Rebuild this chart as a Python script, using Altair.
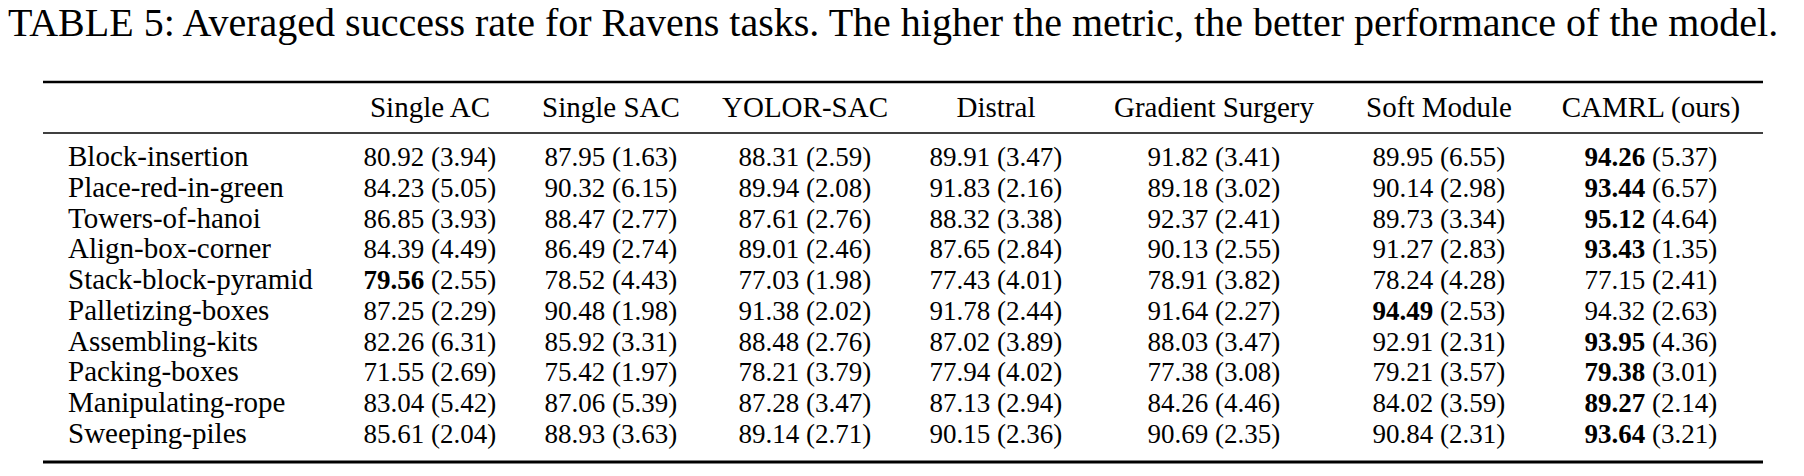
import altair as alt
import pandas as pd

TITLE = ("TABLE 5: Averaged success rate for Ravens tasks. The higher the metric, "
         "the better performance of the model.")

tasks = ["Block-insertion", "Place-red-in-green", "Towers-of-hanoi", "Align-box-corner",
         "Stack-block-pyramid", "Palletizing-boxes", "Assembling-kits", "Packing-boxes",
         "Manipulating-rope", "Sweeping-piles"]
methods = ["Single AC", "Single SAC", "YOLOR-SAC", "Distral", "Gradient Surgery",
           "Soft Module", "CAMRL (ours)"]

single_ac = [80.92, 84.23, 86.85, 84.39, 79.56, 87.25, 82.26, 71.55, 83.04, 85.61]
single_ac_sd = [3.94, 5.05, 3.93, 4.49, 2.55, 2.29, 6.31, 2.69, 5.42, 2.04]
single_sac = [87.95, 90.32, 88.47, 86.49, 78.52, 90.48, 85.92, 75.42, 87.06, 88.93]
single_sac_sd = [1.63, 6.15, 2.77, 2.74, 4.43, 1.98, 3.31, 1.97, 5.39, 3.63]
yolor_sac = [88.31, 89.94, 87.61, 89.01, 77.03, 91.38, 88.48, 78.21, 87.28, 89.14]
yolor_sac_sd = [2.59, 2.08, 2.76, 2.46, 1.98, 2.02, 2.76, 3.79, 3.47, 2.71]
distral = [89.91, 91.83, 88.32, 87.65, 77.43, 91.78, 87.02, 77.94, 87.13, 90.15]
distral_sd = [3.47, 2.16, 3.38, 2.84, 4.01, 2.44, 3.89, 4.02, 2.94, 2.36]
grad_surgery = [91.82, 89.18, 92.37, 90.13, 78.91, 91.64, 88.03, 77.38, 84.26, 90.69]
grad_surgery_sd = [3.41, 3.02, 2.41, 2.55, 3.82, 2.27, 3.47, 3.08, 4.46, 2.35]
soft_module = [89.95, 90.14, 89.73, 91.27, 78.24, 94.49, 92.91, 79.21, 84.02, 90.84]
soft_module_sd = [6.55, 2.98, 3.34, 2.83, 4.28, 2.53, 2.31, 3.57, 3.59, 2.31]
camrl = [94.26, 93.44, 95.12, 93.43, 77.15, 94.32, 93.95, 79.38, 89.27, 93.64]
camrl_sd = [5.37, 6.57, 4.64, 1.35, 2.41, 2.63, 4.36, 3.01, 2.14, 3.21]

# method whose mean is bold in each row
bold_method = ["CAMRL (ours)", "CAMRL (ours)", "CAMRL (ours)", "CAMRL (ours)",
               "Single AC", "Soft Module", "CAMRL (ours)", "CAMRL (ours)",
               "CAMRL (ours)", "CAMRL (ours)"]

means = [single_ac, single_sac, yolor_sac, distral, grad_surgery, soft_module, camrl]
sds = [single_ac_sd, single_sac_sd, yolor_sac_sd, distral_sd, grad_surgery_sd,
       soft_module_sd, camrl_sd]

rows = []
for mi, m in enumerate(methods):
    for ti, t in enumerate(tasks):
        rows.append({
            "task": t, "method": m, "col": mi,
            "mean": f"{means[mi][ti]:.2f}",
            "sd": f"({sds[mi][ti]:.2f})",
            "bold": bool(bold_method[ti] == m),
        })
cells = pd.DataFrame(rows)
headers = pd.DataFrame({"method": methods, "col": list(range(len(methods)))})
labels = pd.DataFrame({"task": tasks})

FONT = "Liberation Serif"
FS = 27          # numbers
FS_TXT = 29      # row labels / column headers
FS_TITLE = 40
# layout (style) constants
COL_CENTERS = [422, 603, 797, 988, 1206, 1431, 1643]
xs = alt.Scale(domain=list(range(len(methods))), range=COL_CENTERS)
ys = alt.Scale(domain=tasks, type="point", range=[158, 435], padding=0)
SPLIT = -0.2085 * FS
SPACE = 0.25 * FS

base_cells = alt.Chart(cells)
X = alt.X("col:Q", scale=xs, axis=None)
Y = alt.Y("task:N", scale=ys, axis=None)

val_norm = base_cells.transform_filter("!datum.bold").mark_text(
    font=FONT, fontSize=FS, align="right", baseline="alphabetic",
    dx=SPLIT, color="black").encode(x=X, y=Y, text="mean:N")
val_bold = base_cells.transform_filter("datum.bold").mark_text(
    font=FONT, fontSize=FS, fontWeight="bold", align="right", baseline="alphabetic",
    dx=SPLIT, color="black").encode(x=X, y=Y, text="mean:N")
sd = base_cells.mark_text(font=FONT, fontSize=FS, align="left", baseline="alphabetic",
                          dx=SPLIT + SPACE, color="black").encode(x=X, y=Y, text="sd:N")
head = alt.Chart(headers).mark_text(font=FONT, fontSize=FS_TXT, align="center",
                                    baseline="alphabetic", color="black").encode(
    x=X, y=alt.value(109), text="method:N")
lab = alt.Chart(labels).mark_text(font=FONT, fontSize=FS_TXT, align="left",
                                  baseline="alphabetic", color="black").encode(
    x=alt.value(60), y=Y, text="task:N")
title = alt.Chart(pd.DataFrame({"t": [TITLE]})).mark_text(
    font=FONT, fontSize=FS_TITLE, align="left", baseline="alphabetic", color="black").encode(
    x=alt.value(0), y=alt.value(28), text="t:N")


def hrule(y, w):
    return alt.Chart(pd.DataFrame({"r": [0]})).mark_rule(
        color="black", strokeWidth=w).encode(
        x=alt.value(35), x2=alt.value(1755), y=alt.value(y))


chart = alt.layer(
    title, hrule(74, 2.6), hrule(125, 1.3), hrule(454, 3.0),
    head, lab, val_norm, val_bold, sd
).properties(
    width=1788, height=456, padding=0,
    autosize=alt.AutoSizeParams(type="none"),
    background="white",
).configure_view(stroke=None)

chart.save("out.html", embed_options={"renderer": "svg", "actions": False})
